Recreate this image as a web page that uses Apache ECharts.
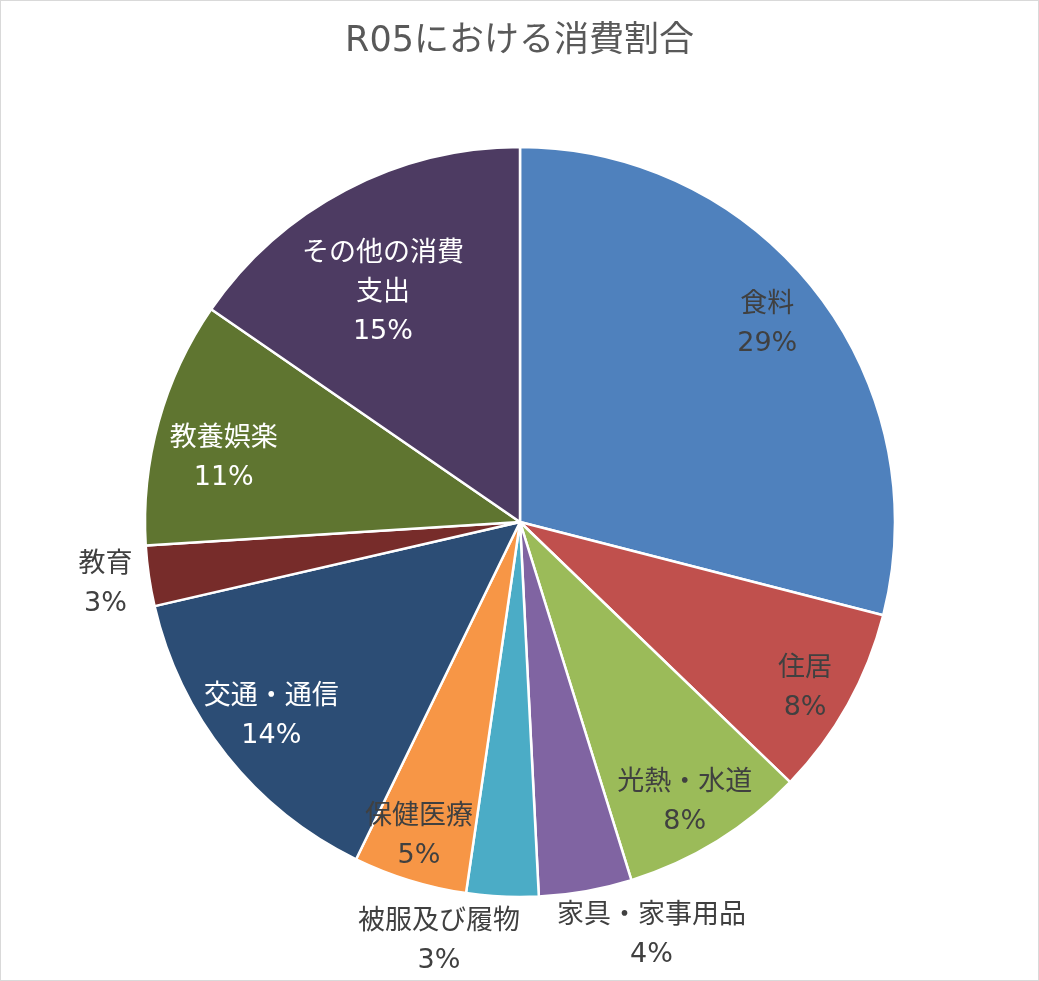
<!DOCTYPE html>
<html><head><meta charset="utf-8">
<script src="https://cdn.jsdelivr.net/npm/echarts@6/dist/echarts.min.js"></script>
<style>
html,body{margin:0;padding:0;background:#fff;}
#c{position:absolute;left:0;top:0;width:1037px;height:979px;border:1px solid #d9d9d9;}
</style></head>
<body><div id="c"></div>
<script>
const categories = ['食料','住居','光熱・水道','家具・家事用品','被服及び履物','保健医療','交通・通信','教育','教養娯楽','その他の消費支出'];
const labelNames = ['食料','住居','光熱・水道','家具・家事用品','被服及び履物','保健医療','交通・通信','教育','教養娯楽','その他の消費\n支出'];
const values = [29.0, 8.2, 8.0, 4.0, 3.1, 4.9, 14.2, 2.6, 10.6, 15.4];
const colors = ['#4F81BD','#C0504D','#9BBB59','#8064A2','#4BACC6','#F79646','#2C4D75','#772C2A','#5F7530','#4D3B62'];
const labelColors = ['#404040','#404040','#404040','#404040','#404040','#404040','#ffffff','#404040','#ffffff','#ffffff'];
// label ring per slice: 'mid' (inside), 'inner' (deeper inside), 'out' (outside)
const labelRing = ['mid','mid','mid','out','out','mid','mid','out','mid','inner'];
// small label nudges (px), like a best-fit placement
const labelNudge = [[-8,0],[3,9],[-5,6],[57,-5],[-61,-5],[-6,6],[4,-7],[6,1],[15,23],[-11,11]];

const chart = echarts.init(document.getElementById('c'));
const C = [519, 521], R = 375;
const font = '"DejaVu Sans", "Noto Sans CJK JP", sans-serif';

function labelSeries(ring, radius){
  return {
    type:'pie', center:C, radius:radius, startAngle:90, clockwise:true, silent:true,
    avoidLabelOverlap:false,
    itemStyle:{color:'rgba(0,0,0,0)', borderWidth:0},
    labelLine:{show:false},
    emphasis:{disabled:true},
    labelLayout: p => ({dx: labelNudge[p.dataIndex][0], dy: labelNudge[p.dataIndex][1], hideOverlap:false, moveOverlap:null}),
    data: values.map((v,i)=>({
      value:v, name:categories[i],
      label:{
        show: labelRing[i]===ring,
        position:'inside',
        formatter: p => labelNames[i] + '\n' + p.percent.toFixed(0) + '%',
        color: ring==='out' ? '#404040' : labelColors[i],
        fontSize:27, lineHeight:39, fontFamily:font, align:'center'
      }
    }))
  };
}

chart.setOption({
  animation:false,
  backgroundColor:'#fff',
  title:{ text:'R05における消費割合', left:'center', top:18,
    textStyle:{fontSize:35, fontWeight:'normal', color:'#595959', fontFamily:font}},
  series:[
    {
      type:'pie', center:C, radius:[0,R], startAngle:90, clockwise:true,
      label:{show:false}, labelLine:{show:false}, emphasis:{disabled:true},
      itemStyle:{borderColor:'#fff', borderWidth:2.5},
      data: values.map((v,i)=>({value:v, name:categories[i], itemStyle:{color:colors[i]}}))
    },
    labelSeries('mid', [265, R]),
    labelSeries('inner', [161, R]),
    labelSeries('out', [R, 469])
  ]
});
</script></body></html>
